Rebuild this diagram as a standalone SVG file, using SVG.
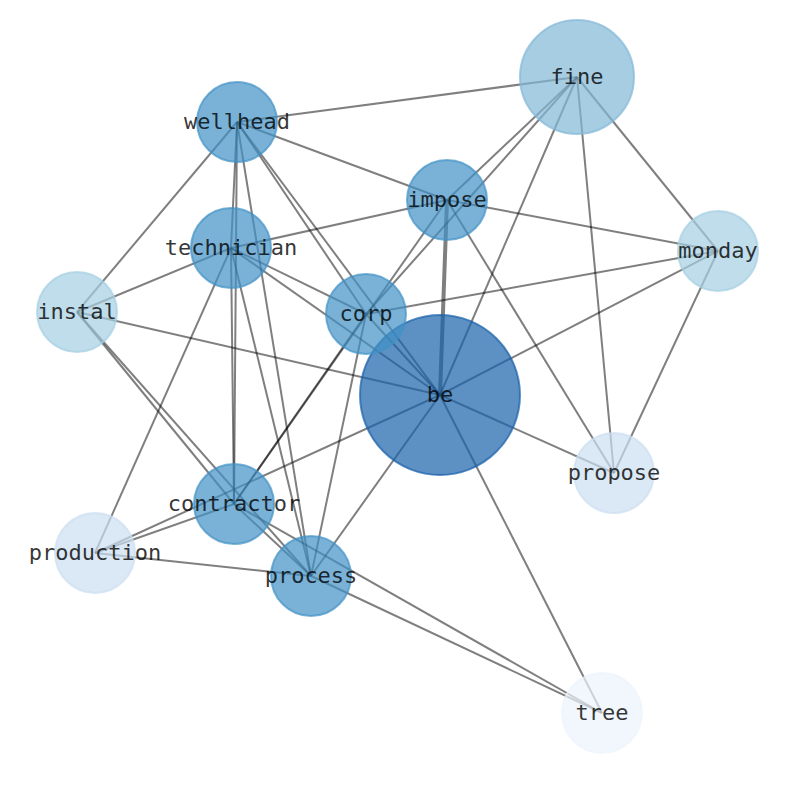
<svg xmlns="http://www.w3.org/2000/svg" width="794" height="790" viewBox="0 0 794 790">
<style>
.e{stroke:#000;stroke-opacity:0.5;stroke-width:2;fill:none}
.w{stroke-width:4}
.n circle{stroke-width:2;fill-opacity:0.7;stroke-opacity:0.7}
.n text{font-family:"DejaVu Sans Mono","Liberation Mono",monospace;font-size:22px;text-anchor:middle;fill:#000;fill-opacity:0.8}
.c1{fill:#1861a9;stroke:#1861a9}
.c2{fill:#4292c6;stroke:#4292c6}
.c3{fill:#81b8d7;stroke:#81b8d7}
.c4{fill:#a5cee2;stroke:#a5cee2}
.c5{fill:#ccdef1;stroke:#ccdef1}
.c6{fill:#ecf4fc;stroke:#ecf4fc}
</style>
<rect width="794" height="790" fill="#fff"/>
<g id="edges">
<line class="e" x1="237" y1="122" x2="577" y2="77"/>
<line class="e" x1="237" y1="122" x2="447" y2="200"/>
<line class="e" x1="237" y1="122" x2="77" y2="312"/>
<line class="e" x1="237" y1="122" x2="231" y2="248"/>
<line class="e" x1="237" y1="122" x2="234" y2="504"/>
<line class="e" x1="237" y1="122" x2="311" y2="576"/>
<line class="e" x1="237" y1="122" x2="366" y2="314"/>
<line class="e" x1="237" y1="122" x2="440" y2="395"/>
<line class="e" x1="231" y1="248" x2="447" y2="200"/>
<line class="e" x1="231" y1="248" x2="77" y2="312"/>
<line class="e" x1="231" y1="248" x2="366" y2="314"/>
<line class="e" x1="231" y1="248" x2="440" y2="395"/>
<line class="e" x1="231" y1="248" x2="234" y2="504"/>
<line class="e" x1="231" y1="248" x2="95" y2="553"/>
<line class="e" x1="231" y1="248" x2="311" y2="576"/>
<line class="e" x1="77" y1="312" x2="440" y2="395"/>
<line class="e" x1="77" y1="312" x2="234" y2="504"/>
<line class="e" x1="77" y1="312" x2="311" y2="576"/>
<line class="e" x1="366" y1="314" x2="577" y2="77"/>
<line class="e" x1="366" y1="314" x2="718" y2="251"/>
<line class="e" x1="366" y1="314" x2="440" y2="395"/>
<line class="e" x1="366" y1="314" x2="234" y2="504"/>
<line class="e" x1="366" y1="314" x2="311" y2="576"/>
<line class="e" x1="577" y1="77" x2="447" y2="200"/>
<line class="e" x1="577" y1="77" x2="440" y2="395"/>
<line class="e" x1="577" y1="77" x2="614" y2="473"/>
<line class="e" x1="577" y1="77" x2="718" y2="251"/>
<line class="e" x1="447" y1="200" x2="718" y2="251"/>
<line class="e w" x1="447" y1="200" x2="440" y2="395"/>
<line class="e" x1="447" y1="200" x2="234" y2="504"/>
<line class="e" x1="447" y1="200" x2="614" y2="473"/>
<line class="e" x1="718" y1="251" x2="440" y2="395"/>
<line class="e" x1="718" y1="251" x2="614" y2="473"/>
<line class="e" x1="614" y1="473" x2="440" y2="395"/>
<line class="e" x1="440" y1="395" x2="602" y2="713"/>
<line class="e" x1="440" y1="395" x2="311" y2="576"/>
<line class="e" x1="440" y1="395" x2="95" y2="553"/>
<line class="e" x1="234" y1="504" x2="95" y2="553"/>
<line class="e" x1="234" y1="504" x2="311" y2="576"/>
<line class="e" x1="234" y1="504" x2="602" y2="713"/>
<line class="e" x1="95" y1="553" x2="311" y2="576"/>
<line class="e" x1="311" y1="576" x2="602" y2="713"/>
</g>
<g id="node-be" class="n"><circle class="c1" cx="440" cy="395" r="80"/></g>
<g id="node-fine" class="n"><circle class="c3" cx="577" cy="77" r="57"/></g>
<g id="node-wellhead" class="n"><circle class="c2" cx="237" cy="122" r="40"/></g>
<g id="node-impose" class="n"><circle class="c2" cx="447" cy="200" r="40"/></g>
<g id="node-technician" class="n"><circle class="c2" cx="231" cy="248" r="40"/></g>
<g id="node-corp" class="n"><circle class="c2" cx="366" cy="314" r="40"/></g>
<g id="node-contractor" class="n"><circle class="c2" cx="234" cy="504" r="40"/></g>
<g id="node-process" class="n"><circle class="c2" cx="311" cy="576" r="40"/></g>
<g id="node-monday" class="n"><circle class="c4" cx="718" cy="251" r="40"/></g>
<g id="node-instal" class="n"><circle class="c4" cx="77" cy="312" r="40"/></g>
<g id="node-propose" class="n"><circle class="c5" cx="614" cy="473" r="40"/></g>
<g id="node-production" class="n"><circle class="c5" cx="95" cy="553" r="40"/></g>
<g id="node-tree" class="n"><circle class="c6" cx="602" cy="713" r="40"/></g>
<g id="labels" class="n">
<text x="440" y="402">be</text>
<text x="577" y="84">fine</text>
<text x="237" y="129">wellhead</text>
<text x="447" y="207">impose</text>
<text x="231" y="255">technician</text>
<text x="366" y="321">corp</text>
<text x="234" y="511">contractor</text>
<text x="311" y="583">process</text>
<text x="718" y="258">monday</text>
<text x="77" y="319">instal</text>
<text x="614" y="480">propose</text>
<text x="95" y="560">production</text>
<text x="602" y="720">tree</text>
</g>
</svg>
